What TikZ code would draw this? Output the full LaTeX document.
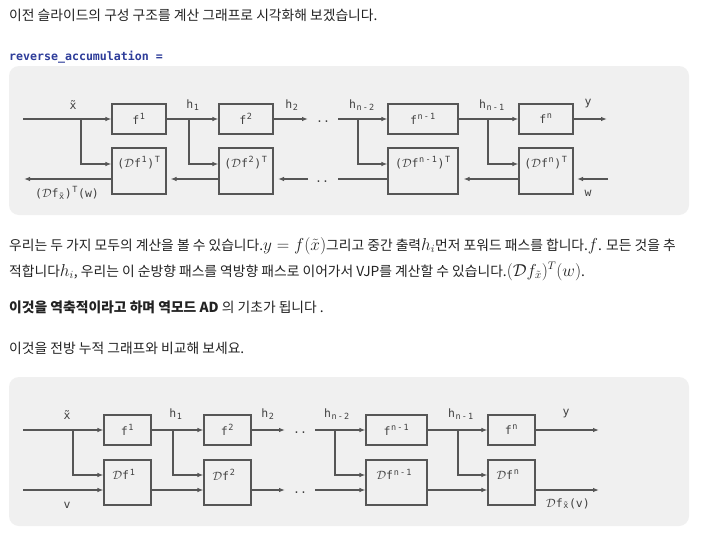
\documentclass[tikz,border=0pt]{standalone}
\usepackage{fontspec}
\setmainfont{Noto Sans CJK KR}
\newfontfamily\monofont{DejaVu Sans Mono}
\usetikzlibrary{arrows.meta}

\definecolor{panelgray}{HTML}{F0F0F0}
\definecolor{wire}{HTML}{565656}
\definecolor{labelgray}{HTML}{404040}
\definecolor{codeblue}{HTML}{2E3D9A}
\definecolor{bodytext}{HTML}{222222}

% raised / lowered characters, one mono cell each
\newcommand\up[1]{\makebox[0.55em]{\raisebox{0.42em}{\fontsize{8.5}{9}\selectfont #1}}}
\newcommand\dn[1]{\makebox[0.55em]{\raisebox{-0.12em}{\fontsize{8.5}{9}\selectfont #1}}}
\newcommand\mth[1]{{\fontsize{16}{19}\selectfont$#1$}}
\newcommand\scrD{$\mathcal{D}$}

\tikzset{
  fbox/.style={draw=wire, line width=1.1pt, inner sep=0, font=\monofont\fontsize{11.5}{13}\selectfont, text=labelgray},
  line/.style={draw=wire, line width=1.1pt},
  arr/.style={line, -{Latex[length=6pt,width=4.5pt]}},
  lbl/.style={font=\monofont\fontsize{11.5}{13}\selectfont, text=labelgray, inner sep=0},
  txt/.style={font=\fontsize{13.8}{16}\selectfont, text=bodytext, inner sep=0, anchor=base west}
}

\begin{document}
\begin{tikzpicture}[x=1pt,y=-1pt]
    \useasboundingbox (0,0) rectangle (702,541);
    \fill[white] (0,0) rectangle (702,541);

    % Text above the first panel
    \node[txt] (intro) at (9,20) {이전 슬라이드의 구성 구조를 계산 그래프로 시각화해 보겠습니다.};
    \node[txt, font=\monofont\bfseries\fontsize{11.6}{14}\selectfont, text=codeblue] (code) at (9,60) {reverse\_accumulation =};

    % Panels
    \fill[panelgray, rounded corners=10pt] (9,66) rectangle (689,215);
    \fill[panelgray, rounded corners=10pt] (9,377) rectangle (689,526);

    % Reverse accumulation: boxes
    \node[fbox, minimum width=54pt, minimum height=30pt] (rf1) at (139,119) {f\up{1}};
    \node[fbox, minimum width=54pt, minimum height=46pt] (rdf1) at (139,171) {};
    \node[fbox, minimum width=54pt, minimum height=30pt] (rf2) at (246,119) {f\up{2}};
    \node[fbox, minimum width=54pt, minimum height=46pt] (rdf2) at (246,171) {};
    \node[fbox, minimum width=70pt, minimum height=30pt] (rfm) at (423,119) {f\up{n}\up{-}\up{1}};
    \node[fbox, minimum width=70pt, minimum height=46pt] (rdfm) at (423,171) {};
    \node[fbox, minimum width=54pt, minimum height=30pt] (rfn) at (546,119) {f\up{n}};
    \node[fbox, minimum width=54pt, minimum height=46pt] (rdfn) at (546,171) {};
    \node[lbl] (rt1) at ([yshift=-15pt]rdf1.north) {(\scrD f\up{1})\up{T}};
    \node[lbl] (rt2) at ([yshift=-15pt]rdf2.north) {(\scrD f\up{2})\up{T}};
    \node[lbl] (rtm) at ([yshift=-15pt]rdfm.north) {(\scrD f\up{n}\up{-}\up{1})\up{T}};
    \node[lbl] (rtn) at ([yshift=-15pt]rdfn.north) {(\scrD f\up{n})\up{T}};

    % Reverse accumulation: wire ends
    \coordinate (rin) at (23,119);
    \coordinate (rb0) at (81,119);
    \coordinate (rb1) at (189,119);
    \coordinate (rd1) at (308,119);
    \coordinate (rd2) at (338,119);
    \coordinate (rb2) at (358,119);
    \coordinate (rb3) at (488,119);
    \coordinate (rout) at (607,119);
    \coordinate (rwin) at (608,179);
    \coordinate (rwend) at (577,179);
    \coordinate (rbd2) at (338,179);
    \coordinate (rbd1) at (308,179);
    \coordinate (rbd1e) at (278,179);
    \coordinate (rbout) at (24,179);

    % forward pass
    \draw[arr] (rin) -- (rf1.west);
    \draw[arr] (rb0) |- ([yshift=7pt]rdf1.west);
    \draw[arr] (rf1.east) -- (rf2.west);
    \draw[arr] (rb1) |- ([yshift=7pt]rdf2.west);
    \draw[arr] (rf2.east) -- (rd1);
    \draw[arr] (rd2) -- (rfm.west);
    \draw[arr] (rb2) |- ([yshift=7pt]rdfm.west);
    \draw[arr] (rfm.east) -- (rfn.west);
    \draw[arr] (rb3) |- ([yshift=7pt]rdfn.west);
    \draw[arr] (rfn.east) -- (rout);
    % backward pass
    \draw[arr] (rwin) -- (rwend);
    \draw[arr, shorten >=5pt] ([yshift=-8pt]rdfn.west) -- ([yshift=-8pt]rdfm.east);
    \draw[line] ([yshift=-8pt]rdfm.west) -- (rbd2);
    \draw[arr] (rbd1) -- (rbd1e);
    \draw[arr, shorten >=4pt] ([yshift=-8pt]rdf2.west) -- ([yshift=-8pt]rdf1.east);
    \draw[arr] ([yshift=-8pt]rdf1.west) -- (rbout);

    % labels
    \node[lbl] (rlx) at (73,105) {\~{x}};
    \node[lbl] (rlh1) at (193,105) {h\dn{1}};
    \node[lbl] (rlh2) at (292,105) {h\dn{2}};
    \node[lbl] (rlhm) at (362,105) {h\dn{n}\dn{-}\dn{2}};
    \node[lbl] (rlhn) at (492,105) {h\dn{n}\dn{-}\dn{1}};
    \node[lbl] (rly) at (588,104) {y};
    \node[lbl] (rlw) at (588,193) {w};
    \node[lbl] (rlout) at (67,193) {(\scrD f\dn{\~{x}})\up{T}(w)};
    \node[lbl] (rdots1) at (323,122) {..};
    \node[lbl] (rdots2) at (322,182) {..};

    % Text between the panels
    \node[txt] (para1) at (9,250) {우리는 두 가지 모두의 계산을 볼 수 있습니다.\mth{y = f(\tilde{x})}그리고 중간 출력\mth{h_i}먼저 포워드 패스를 합니다.\mth{f}. 모든 것을 추};
    \node[txt] (para2) at (9,276) {적합니다\mth{h_i}, 우리는 이 순방향 패스를 역방향 패스로 이어가서 VJP를 계산할 수 있습니다.\mth{(\mathcal{D}f_{\tilde{x}})^T(w)}.};
    \node[txt] (para3) at (9,312) {{\bfseries 이것을 역축적이라고 하며 역모드 AD} 의 기초가 됩니다 .};
    \node[txt] (para4) at (9,353) {이것을 전방 누적 그래프와 비교해 보세요.};

    % Forward accumulation: boxes
    \node[fbox, minimum width=47pt, minimum height=30pt] (ff1) at (127.5,430) {f\up{1}};
    \node[fbox, minimum width=47pt, minimum height=45pt] (fdf1) at (127.5,482.5) {};
    \node[fbox, minimum width=47pt, minimum height=30pt] (ff2) at (227.5,430) {f\up{2}};
    \node[fbox, minimum width=47pt, minimum height=45pt] (fdf2) at (227.5,482.5) {};
    \node[fbox, minimum width=61pt, minimum height=30pt] (ffm) at (396.5,430) {f\up{n}\up{-}\up{1}};
    \node[fbox, minimum width=61pt, minimum height=45pt] (fdfm) at (396.5,482.5) {};
    \node[fbox, minimum width=47pt, minimum height=30pt] (ffn) at (511.5,430) {f\up{n}};
    \node[fbox, minimum width=47pt, minimum height=45pt] (fdfn) at (511.5,482.5) {};
    \node[lbl, anchor=west] (ft1) at ([xshift=9pt,yshift=-15pt]fdf1.north west) {\scrD f\up{1}};
    \node[lbl, anchor=west] (ft2) at ([xshift=9pt,yshift=-15pt]fdf2.north west) {\scrD f\up{2}};
    \node[lbl, anchor=west] (ftm) at ([xshift=11pt,yshift=-15pt]fdfm.north west) {\scrD f\up{n}\up{-}\up{1}};
    \node[lbl, anchor=west] (ftn) at ([xshift=9pt,yshift=-15pt]fdfn.north west) {\scrD f\up{n}};

    % Forward accumulation: wire ends
    \coordinate (fin) at (23,430);
    \coordinate (fb0) at (73,430);
    \coordinate (fvin) at (23,490);
    \coordinate (fb1) at (173,430);
    \coordinate (fd1) at (285,430);
    \coordinate (fdd1) at (285,490);
    \coordinate (fd2) at (315,430);
    \coordinate (fdd2) at (315,490);
    \coordinate (fb2) at (335,430);
    \coordinate (fb3) at (458,430);
    \coordinate (fout) at (599,430);
    \coordinate (fvout) at (599,490);

    \draw[arr] (fin) -- (ff1.west);
    \draw[arr] (fb0) |- ([yshift=7.5pt]fdf1.west);
    \draw[arr] (fvin) -- ([yshift=-7.5pt]fdf1.west);
    \draw[arr] (ff1.east) -- (ff2.west);
    \draw[arr] (fb1) |- ([yshift=7.5pt]fdf2.west);
    \draw[arr] ([yshift=-7.5pt]fdf1.east) -- ([yshift=-7.5pt]fdf2.west);
    \draw[arr] (ff2.east) -- (fd1);
    \draw[arr] ([yshift=-7.5pt]fdf2.east) -- (fdd1);
    \draw[arr] (fd2) -- (ffm.west);
    \draw[arr] (fb2) |- ([yshift=7.5pt]fdfm.west);
    \draw[arr] (fdd2) -- ([yshift=-7.5pt]fdfm.west);
    \draw[arr] (ffm.east) -- (ffn.west);
    \draw[arr] (fb3) |- ([yshift=7.5pt]fdfn.west);
    \draw[arr] ([yshift=-7.5pt]fdfm.east) -- ([yshift=-7.5pt]fdfn.west);
    \draw[arr] (ffn.east) -- (fout);
    \draw[arr] ([yshift=-7.5pt]fdfn.east) -- (fvout);

    % labels
    \node[lbl] (flx) at (67,415) {\~{x}};
    \node[lbl] (flh1) at (176,414) {h\dn{1}};
    \node[lbl] (flh2) at (268,414) {h\dn{2}};
    \node[lbl] (flhm) at (337,414) {h\dn{n}\dn{-}\dn{2}};
    \node[lbl] (flhn) at (461,414) {h\dn{n}\dn{-}\dn{1}};
    \node[lbl] (fly) at (566,414) {y};
    \node[lbl] (flv) at (67,505) {v};
    \node[lbl] (flout) at (568,504) {\scrD f\dn{\~{x}}(v)};
    \node[lbl] (fdots1) at (300,433) {..};
    \node[lbl] (fdots2) at (300,493) {..};
\end{tikzpicture}
\end{document}
